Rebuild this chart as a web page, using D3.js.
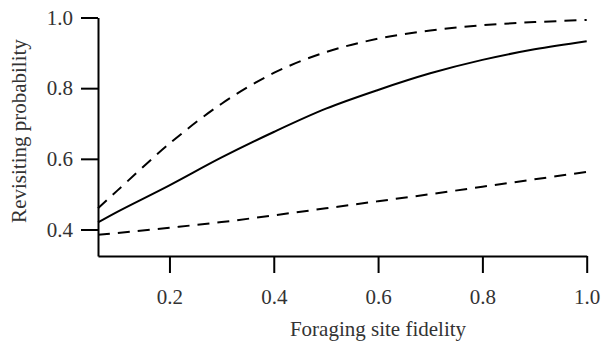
<!DOCTYPE html>
<html>
<head>
<meta charset="utf-8">
<script src="https://cdn.jsdelivr.net/npm/d3@7"></script>
<style>
  html, body { margin: 0; padding: 0; background: #fff; }
  svg { display: block; font-family: "Liberation Serif", "DejaVu Serif", serif; }
</style>
</head>
<body>
<div id="chart"></div>
<script>
// values
const fidelity = [0.063, 0.1, 0.2, 0.3, 0.4, 0.5, 0.6, 0.7, 0.8, 0.9, 1.0];
const estimate = [0.42, 0.45, 0.525, 0.604, 0.676, 0.742, 0.795, 0.842, 0.88, 0.91, 0.933];
const upperBound = [0.46, 0.51, 0.643, 0.756, 0.843, 0.902, 0.94, 0.963, 0.978, 0.987, 0.993];
const lowerBound = [0.385, 0.39, 0.405, 0.421, 0.44, 0.46, 0.48, 0.50, 0.521, 0.542, 0.563];
const xTicks = [0.2, 0.4, 0.6, 0.8, 1.0];
const yTicks = [0.4, 0.6, 0.8, 1.0];

const width = 612, height = 344;
const svg = d3.select("#chart").append("svg")
  .attr("width", width)
  .attr("height", height);

const x = d3.scaleLinear().domain([0.063, 1.0]).range([98, 586.7]);
const y = d3.scaleLinear().domain([0.325, 1.0]).range([256, 17.5]);

const textColor = "#333";
const fontSize = "21px";

const xAxis = svg.append("g")
  .attr("transform", `translate(0,256)`)
  .call(d3.axisBottom(x).tickValues(xTicks).tickFormat(d3.format(".1f"))
    .tickSize(17).tickSizeOuter(0).tickPadding(16));

const yAxis = svg.append("g")
  .attr("transform", `translate(98,0)`)
  .call(d3.axisLeft(y).tickValues(yTicks).tickFormat(d3.format(".1f"))
    .tickSize(17).tickSizeOuter(0).tickPadding(8));

[xAxis, yAxis].forEach((g) => {
  g.select(".domain").attr("stroke", "#000").attr("stroke-width", 2);
  g.selectAll(".tick line").attr("stroke", "#000").attr("stroke-width", 2);
  g.selectAll(".tick text")
    .attr("fill", textColor)
    .style("font-size", fontSize)
    .style("font-family", "Liberation Serif, serif");
});

svg.append("text")
  .attr("x", 378)
  .attr("y", 336)
  .attr("text-anchor", "middle")
  .attr("fill", textColor)
  .style("font-size", fontSize)
  .text("Foraging site fidelity");

svg.append("text")
  .attr("transform", "translate(26,131) rotate(-90)")
  .attr("text-anchor", "middle")
  .attr("fill", textColor)
  .style("font-size", fontSize)
  .text("Revisiting probability");

const line = d3.line()
  .x((d) => x(d[0]))
  .y((d) => y(d[1]))
  .curve(d3.curveCatmullRom.alpha(0.5));

const series = [
  { values: upperBound, dash: "12,8" },
  { values: estimate, dash: null },
  { values: lowerBound, dash: "12,8" },
];

svg.append("g")
  .selectAll("path")
  .data(series)
  .enter()
  .append("path")
  .attr("fill", "none")
  .attr("stroke", "#000")
  .attr("stroke-width", 2)
  .attr("stroke-dasharray", (d) => d.dash)
  .attr("d", (d) => line(fidelity.map((f, i) => [f, d.values[i]])));
</script>
</body>
</html>
